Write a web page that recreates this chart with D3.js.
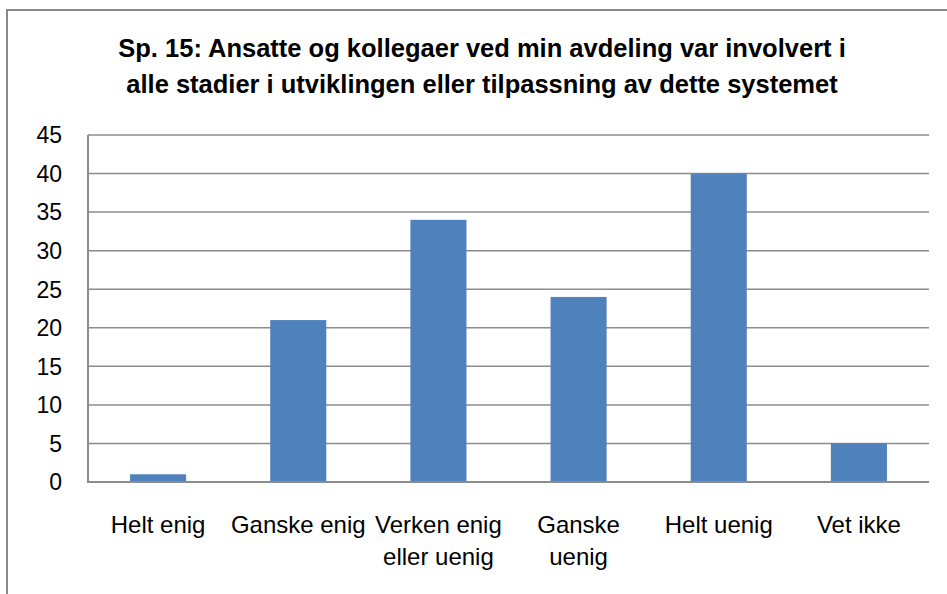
<!DOCTYPE html>
<html>
<head>
  <meta charset="utf-8">
  <script src="https://cdnjs.cloudflare.com/ajax/libs/d3/7.8.5/d3.min.js"></script>
  <title>Sp. 15</title>
  <style>
    body { margin: 0; background: #fff; }
    text { font-family: "Liberation Sans", Arial, sans-serif; fill: #000; }
  </style>
</head>
<body>
<script>
var kategorier = [["Helt enig"], ["Ganske enig"], ["Verken enig", "eller uenig"], ["Ganske", "uenig"], ["Helt uenig"], ["Vet ikke"]];
var verdier = [1, 21, 34, 24, 40, 5];
var yTicks = [0, 5, 10, 15, 20, 25, 30, 35, 40, 45];
var tittel = ["Sp. 15: Ansatte og kollegaer ved min avdeling var involvert i",
              "alle stadier i utviklingen eller tilpassning av dette systemet"];

var W = 947, H = 594;
var plot = {left: 88, right: 929, top: 135, bottom: 482};

var svg = d3.select("body").append("svg")
  .attr("width", W).attr("height", H);

// chart frame
svg.append("rect")
  .attr("x", 7).attr("y", 10)
  .attr("width", W + 10).attr("height", H + 10)
  .attr("fill", "#fff").attr("stroke", "#898989").attr("stroke-width", 2);

var x = d3.scaleBand()
  .domain(d3.range(kategorier.length))
  .range([plot.left, plot.right])
  .paddingInner(0.6).paddingOuter(0.3);

var y = d3.scaleLinear().domain([0, 45]).range([plot.bottom, plot.top]);

// gridlines
svg.selectAll("line.grid").data(yTicks.filter(function(d) { return d > 0; })).enter()
  .append("line").attr("class", "grid")
  .attr("x1", plot.left).attr("x2", plot.right)
  .attr("y1", function(d) { return y(d); }).attr("y2", function(d) { return y(d); })
  .attr("stroke", "#8c8c8c").attr("stroke-width", 1.5);

// bars
svg.selectAll("rect.bar").data(verdier).enter()
  .append("rect").attr("class", "bar")
  .attr("x", function(d, i) { return x(i); })
  .attr("width", x.bandwidth())
  .attr("y", function(d) { return y(d); })
  .attr("height", function(d) { return y(0) - y(d); })
  .attr("fill", "#4f81bd");

// axes lines
svg.append("line")
  .attr("x1", plot.left).attr("x2", plot.left)
  .attr("y1", plot.top).attr("y2", plot.bottom)
  .attr("stroke", "#8c8c8c").attr("stroke-width", 2);
svg.append("line")
  .attr("x1", plot.left - 1).attr("x2", plot.right)
  .attr("y1", plot.bottom).attr("y2", plot.bottom)
  .attr("stroke", "#8c8c8c").attr("stroke-width", 2);

// y tick labels
svg.selectAll("text.ytick").data(yTicks).enter()
  .append("text").attr("class", "ytick")
  .attr("x", 62).attr("y", function(d) { return y(d); })
  .attr("dy", "0.36em")
  .attr("text-anchor", "end")
  .attr("font-size", 23)
  .text(function(d) { return d; });

// category labels
var kat = svg.selectAll("text.xtick").data(kategorier).enter()
  .append("text").attr("class", "xtick")
  .attr("text-anchor", "middle")
  .attr("font-size", 24)
  .attr("transform", function(d, i) { return "translate(" + (x(i) + x.bandwidth() / 2) + ",533)"; });
kat.selectAll("tspan").data(function(d) { return d; }).enter()
  .append("tspan")
  .attr("x", 0)
  .attr("y", function(d, j) { return j * 32; })
  .text(function(d) { return d; });

// title
svg.selectAll("text.title").data(tittel).enter()
  .append("text").attr("class", "title")
  .attr("x", 482)
  .attr("y", function(d, i) { return 57 + i * 36; })
  .attr("text-anchor", "middle")
  .attr("font-size", 25.5)
  .attr("font-weight", "bold")
  .text(function(d) { return d; });
</script>
</body>
</html>
